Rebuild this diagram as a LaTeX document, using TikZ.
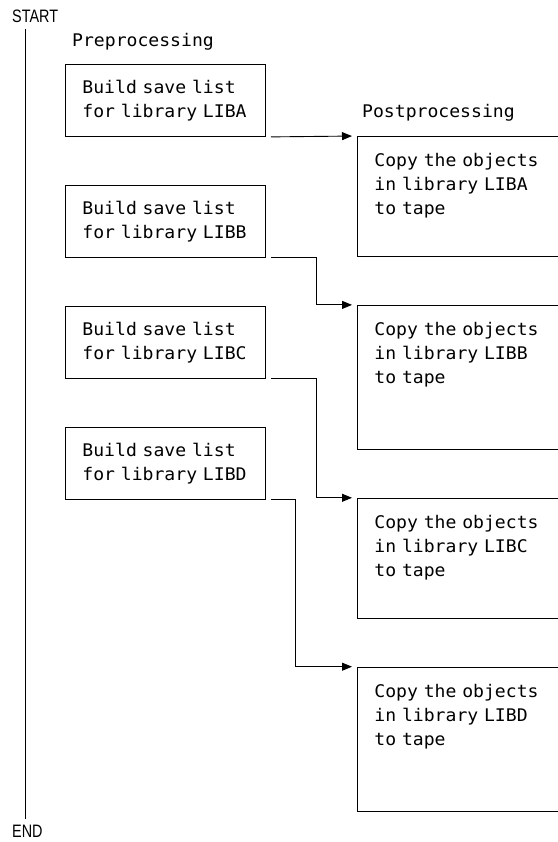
\documentclass[tikz,border=0pt]{standalone}
\usepackage{fontspec}
\newfontfamily\boxfont{DejaVu Sans Mono}[FakeStretch=1.04]
\newfontfamily\termfont{Liberation Sans}[FakeStretch=0.8]
\usetikzlibrary{arrows.meta,positioning}

\begin{document}
\begin{tikzpicture}[
  x=1pt, y=-1pt,
  node distance=48pt,
  mono/.style={font=\boxfont\fontsize{17.4}{24}\selectfont},
  prebox/.style={mono, draw, line width=0.9pt, minimum width=200pt, minimum height=72pt, inner xsep=17pt, text width=166pt, align=left},
  postbox/.style={mono, draw, line width=0.9pt, minimum width=212pt, inner xsep=17pt, inner ysep=0pt, text width=178pt, align=left, text height=30pt, text depth=#1},
  postbox/.default=90pt,
  term/.style={font=\termfont\fontsize{18}{20}\selectfont, inner sep=0pt, anchor=west},
  arrow/.style={-{Triangle[length=10pt,width=8pt]}, line width=0.9pt, shorten >=5pt}
]
\useasboundingbox (0,0) rectangle (557,842);

% start / end and the time line
\node[term] (start) at (12,16.5) {START};
\node[term] (end) at (12,831) {END};
\coordinate (spine) at (25,0);
\draw[line width=0.9pt] ([yshift=-6pt]start.south -| spine) -- ([yshift=6pt]end.north -| spine);

% preprocessing
\node[mono, inner sep=0pt, anchor=base west] (prelab) at (72,47) {Preprocessing};
\node[prebox, anchor=north west] (preA) at (65,64) {Build save list\\for library LIBA};
\node[prebox, below=of preA] (preB) {Build save list\\for library LIBB};
\node[prebox, below=of preB] (preC) {Build save list\\for library LIBC};
\node[prebox, below=of preC] (preD) {Build save list\\for library LIBD};

% postprocessing
\node[mono, inner sep=0pt, anchor=base west] (postlab) at (362,118) {Postprocessing};
\node[postbox, anchor=north west] (postA) at (357,136) {Copy the objects\\in library LIBA\\to tape};
\node[postbox=114pt, below=of postA] (postB) {Copy the objects\\in library LIBB\\to tape};
\node[postbox, below=of postB] (postC) {Copy the objects\\in library LIBC\\to tape};
\node[postbox=114pt, below=of postC] (postD) {Copy the objects\\in library LIBD\\to tape};

\draw[arrow] ([xshift=5pt]preA.south east) -- (postA.north west);
\draw[arrow] ([xshift=5pt]preB.south east) -- ++(46,0) |- (postB.north west);
\draw[arrow] ([xshift=5pt]preC.south east) -- ++(46,0) |- (postC.north west);
\draw[arrow] ([xshift=5pt]preD.south east) -- ++(25,0) |- (postD.north west);
\end{tikzpicture}
\end{document}
